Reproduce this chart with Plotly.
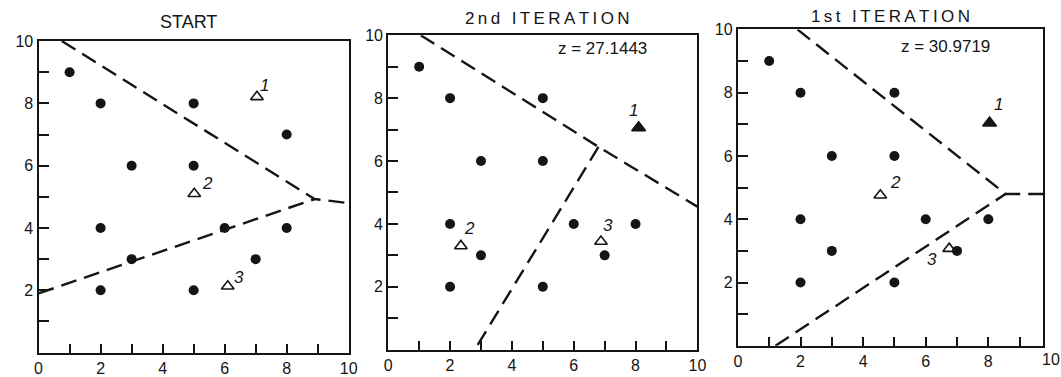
import plotly.graph_objects as go

W, H = 1061, 377

# observations (identical in all three panels)
pts_x = [1, 2, 5, 8, 3, 5, 2, 6, 8, 3, 7, 2, 5]
pts_y = [9, 8, 8, 7, 6, 6, 4, 4, 4, 3, 3, 2, 2]

panel_titles = ["START", "2nd ITERATION", "1st ITERATION"]
z_values = [None, "z = 27.1443", "z = 30.9719"]

# cluster centres (clusters 1, 2, 3) for each panel
start_cx = [7.04, 5.02, 6.10]
start_cy = [8.21, 5.10, 2.13]
iter2_cx = [8.10, 2.35, 6.88]
iter2_cy = [7.06, 3.30, 3.44]
iter1_cx = [8.04, 4.55, 6.75]
iter1_cy = [7.04, 4.76, 3.07]
centre_names = ["1", "2", "3"]

# partition boundaries
start_upper_x = [0.75, 8.9, 10.0]
start_upper_y = [10.0, 4.93, 4.8]
start_lower_x = [0.0, 8.9]
start_lower_y = [1.9, 4.93]
iter2_upper_x = [1.05, 6.8, 10.0]
iter2_upper_y = [10.0, 6.45, 4.55]
iter2_lower_x = [6.8, 2.8]
iter2_lower_y = [6.45, 0.0]
iter1_upper_x = [1.9, 8.55, 9.75]
iter1_upper_y = [10.0, 4.8, 4.8]
iter1_lower_x = [1.2, 8.55]
iter1_lower_y = [0.0, 4.8]

panels = [
    dict(cx=start_cx, cy=start_cy, filled=False,
         bounds=[(start_upper_x, start_upper_y), (start_lower_x, start_lower_y)],
         px=(35, 349), py=(34, 354), xmax=10.0,
         lab_shift=[(8, 11), (13, 10), (11, 9)], title_xy=(187, 14), z_xy=None),
    dict(cx=iter2_cx, cy=iter2_cy, filled=True,
         bounds=[(iter2_upper_x, iter2_upper_y), (iter2_lower_x, iter2_lower_y)],
         px=(389, 702), py=(28, 351), xmax=10.0,
         lab_shift=[(-5, 17), (9, 17), (7, 16)], title_xy=(550, 11), z_xy=(606, 42)),
    dict(cx=iter1_cx, cy=iter1_cy, filled=True,
         bounds=[(iter1_upper_x, iter1_upper_y), (iter1_lower_x, iter1_lower_y)],
         px=(743, 1052), py=(22, 347), xmax=9.75,
         lab_shift=[(9, 19), (15, 13), (-17, -11)], title_xy=(897, 9), z_xy=(953, 40)),
]

INK = "#151515"
FONT = "Liberation Sans, Arial, sans-serif"
THIN = "\u2009"

fig = go.Figure()
annotations = []

for i, p in enumerate(panels, start=1):
    xa, ya = f"x{i}", f"y{i}"
    # dashed boundaries
    for bx, by in p["bounds"]:
        fig.add_trace(go.Scatter(x=bx, y=by, mode="lines", xaxis=xa, yaxis=ya,
                                 line=dict(color=INK, width=2.4, dash="16px,8px"),
                                 hoverinfo="skip", showlegend=False))
    # observations; when centre 1 lands on a point it is drawn as a solid triangle
    ox, oy = [], []
    for x, y in zip(pts_x, pts_y):
        if p["filled"] and abs(x - p["cx"][0]) < 0.5 and abs(y - p["cy"][0]) < 0.5:
            continue
        ox.append(x)
        oy.append(y)
    fig.add_trace(go.Scatter(x=ox, y=oy, mode="markers", xaxis=xa, yaxis=ya,
                             marker=dict(color=INK, size=10, symbol="circle"),
                             showlegend=False))
    # centres
    for k in range(3):
        solid = p["filled"] and k == 0
        fig.add_trace(go.Scatter(
            x=[p["cx"][k]], y=[p["cy"][k]], mode="markers", xaxis=xa, yaxis=ya,
            marker=dict(symbol="triangle-up" if solid else "triangle-up-open",
                        size=12 if solid else 11, color=INK,
                        line=dict(color=INK, width=1.6)),
            showlegend=False))
        dx, dy = p["lab_shift"][k]
        annotations.append(dict(x=p["cx"][k], y=p["cy"][k], xref=xa, yref=ya,
                                text=f"<i>{centre_names[k]}</i>", showarrow=False,
                                xshift=dx, yshift=dy,
                                font=dict(family=FONT, size=17, color=INK)))

    x0, x1 = p["px"]
    y0, y1 = p["py"]
    suffix = "" if i == 1 else str(i)
    xticks = [v for v in range(11) if v <= p["xmax"]]
    fig.layout["xaxis" + suffix] = dict(
        domain=[x0 / W, x1 / W], range=[0, p["xmax"]], anchor=ya,
        tickvals=xticks, ticktext=[str(v) if v % 2 == 0 else "" for v in xticks],
        ticks="inside", ticklen=9, tickwidth=1.6, tickcolor=INK,
        showline=True, linecolor=INK, linewidth=2.2, mirror=True,
        showgrid=False, zeroline=False, fixedrange=True,
        tickfont=dict(family=FONT, size=16, color=INK))
    fig.layout["yaxis" + suffix] = dict(
        domain=[1 - y1 / H, 1 - y0 / H], range=[0, 10], anchor=xa,
        tickvals=list(range(11)),
        ticktext=[str(v) if v % 2 == 0 and v > 0 else "" for v in range(11)],
        ticks="inside", ticklen=10, tickwidth=1.6, tickcolor=INK,
        showline=True, linecolor=INK, linewidth=2.2, mirror=True,
        showgrid=False, zeroline=False, fixedrange=True,
        tickfont=dict(family=FONT, size=16, color=INK))

    tx, ty = p["title_xy"]
    title = panel_titles[i - 1]
    if i > 1:
        title = THIN.join(title)
    annotations.append(dict(x=tx / W, y=1 - ty / H, xref="paper", yref="paper",
                            text=title, showarrow=False,
                            xanchor="center", yanchor="middle",
                            font=dict(family=FONT, size=18 if i == 1 else 17,
                                      color=INK)))
    if z_values[i - 1]:
        zx, zy = p["z_xy"]
        annotations.append(dict(x=zx / W, y=1 - zy / H, xref="paper", yref="paper",
                                text=z_values[i - 1], showarrow=False,
                                xanchor="center", yanchor="middle",
                                font=dict(family=FONT, size=17, color=INK)))

# the third panel is cut just short of x = 10; its last tick label sits past the frame
annotations.append(dict(x=10 / 9.75, y=0, xref="x3 domain", yref="y3 domain",
                        text="10", showarrow=False, xanchor="center", yanchor="top",
                        yshift=-3, font=dict(family=FONT, size=16, color=INK)))

fig.update_layout(width=W, height=H, autosize=False,
                  margin=dict(l=0, r=0, t=0, b=0),
                  paper_bgcolor="white", plot_bgcolor="white",
                  annotations=annotations, showlegend=False)

fig.write_html("out.html")
